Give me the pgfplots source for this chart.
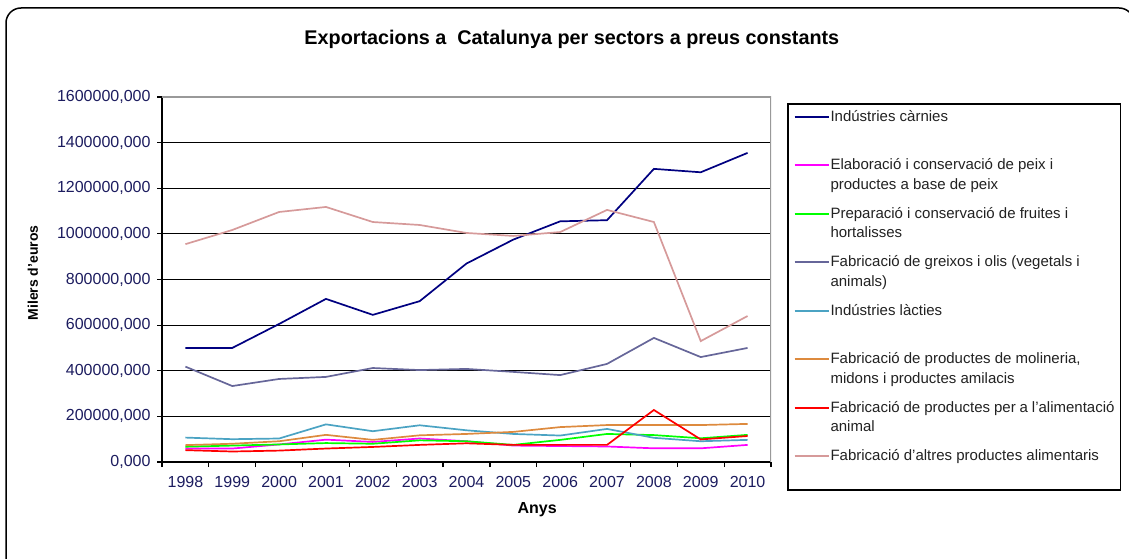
\documentclass[border=0pt]{standalone}
\usepackage{pgfplots}
\pgfplotsset{compat=1.18}
\usepackage{pgfplotstable}
\usepackage{fontspec}
\setmainfont{Liberation Sans}
\definecolor{ticklab}{RGB}{28,28,95}
\definecolor{cNavy}{HTML}{000080}
\definecolor{cMag}{HTML}{FF00FF}
\definecolor{cGreen}{HTML}{00FF00}
\definecolor{cPurple}{HTML}{666699}
\definecolor{cTeal}{HTML}{4BA3C3}
\definecolor{cOrange}{HTML}{DD8A3E}
\definecolor{cRed}{HTML}{FF0000}
\definecolor{cPink}{HTML}{D69A9A}
\definecolor{legtext}{HTML}{222222}

\pgfplotstableread{
x carnies peix fruites greixos lacties molineria animal altres
0 500000 59000 67000 418000 107000 74000 52000 955000
1 500000 59000 72000 333000 100000 80000 46000 1017000
2 605000 77000 77000 364000 103000 91000 50000 1096000
3 715000 98000 83000 373000 165000 119000 59000 1118000
4 645000 88000 80000 412000 135000 97000 66000 1052000
5 705000 103000 95000 403000 161000 117000 75000 1039000
6 870000 91000 91000 408000 139000 123000 82000 1004000
7 975000 72000 75000 395000 123000 132000 75000 991000
8 1055000 70000 97000 381000 116000 153000 75000 1008000
9 1060000 68000 123000 430000 145000 162000 75000 1105000
10 1285000 60000 118000 544000 106000 162000 228000 1052000
11 1270000 60000 104000 460000 91000 162000 99000 530000
12 1355000 75000 119000 500000 97000 167000 114000 640000
}\datatable

\newcommand{\legent}[2]{\parbox[t]{284pt}{\strut #1\\\strut #2}}

\begin{document}
\begin{tikzpicture}[x=1pt,y=1pt]
\useasboundingbox (0,0) rectangle (1129,558);
\begin{scope}
\clip (0,0) rectangle (1129,558);
\draw[line width=1.5pt, rounded corners=15pt] (6,-40) rectangle (1134,550);
\end{scope}
\begin{axis}[
  at={(162pt,96pt)}, anchor=south west,
  width=609pt, height=365pt, scale only axis,
  xmin=-0.5, xmax=12.5,
  ymin=0, ymax=1600000,
  xtick={-0.5,0.5,...,12.5},
  x tick label as interval,
  xticklabels={1998,1999,2000,2001,2002,2003,2004,2005,2006,2007,2008,2009,2010},
  ytick={0,200000,...,1400000},
  extra y ticks={1600000},
  extra y tick style={grid=none},
  scaled y ticks=false,
  yticklabel={\pgfmathprintnumber[fixed,fixed zerofill,precision=3,use comma,1000 sep={},assume math mode=true]{\tick}},
  tick align=outside,
  major tick length=5pt,
  tick style={black, line width=1.2pt},
  axis x line*=bottom, axis y line*=left,
  axis line style={-, black, line width=1.3pt},
  ymajorgrids,
  grid style={black, line width=1.1pt},
  ticklabel style={font=\fontsize{16}{19}\selectfont, text=ticklab},
  xticklabel style={yshift=-6pt},
  yticklabel style={xshift=-3pt},
  /pgf/number format/assume math mode=true,
  title={Exportacions a\ \ Catalunya per sectors a preus constants},
  title style={at={(axis description cs:0.673,1.142)}, anchor=center, yshift=0pt, font=\bfseries\fontsize{19.8}{23}\selectfont},
  xlabel={Anys},
  xlabel style={at={(axis description cs:0.616,-0.1315)}, anchor=center, font=\bfseries\fontsize{16}{19}\selectfont},
  ylabel={Milers d'euros},
  ylabel style={at={(axis description cs:-0.212,0.518)}, anchor=center, font=\bfseries\fontsize{14}{17}\selectfont},
  legend style={at={(axis description cs:1.026,0.983)}, anchor=north west,
    draw=black, line width=1.8pt, inner xsep=6pt, inner ysep=3.5pt,
    font=\fontsize{15}{19.5}\selectfont, text=legtext,
    row sep=9.5pt, column sep=1pt,
    nodes={inner sep=0pt, text depth=}},
  legend cell align=left,
  legend image code/.code={\draw[#1, solid, line width=1.8pt] (0pt,10.4pt) -- (34pt,10.4pt);},
  every axis plot/.append style={line width=1.7pt, mark=none},
]
\addplot[cNavy] table[x=x,y=carnies] {\datatable};
\addlegendentry{\legent{Indústries càrnies}{}}
\addplot[cMag] table[x=x,y=peix] {\datatable};
\addlegendentry{\legent{Elaboració i conservació de peix i}{productes a base de peix}}
\addplot[cGreen] table[x=x,y=fruites] {\datatable};
\addlegendentry{\legent{Preparació i conservació de fruites i}{hortalisses}}
\addplot[cPurple] table[x=x,y=greixos] {\datatable};
\addlegendentry{\legent{Fabricació de greixos i olis (vegetals i}{animals)}}
\addplot[cTeal] table[x=x,y=lacties] {\datatable};
\addlegendentry{\legent{Indústries làcties}{}}
\addplot[cOrange] table[x=x,y=molineria] {\datatable};
\addlegendentry{\legent{Fabricació de productes de molineria,}{midons i productes amilacis}}
\addplot[cRed] table[x=x,y=animal] {\datatable};
\addlegendentry{\legent{Fabricació de productes per a l'alimentació}{animal}}
\addplot[cPink] table[x=x,y=altres] {\datatable};
\addlegendentry{\legent{Fabricació d'altres productes alimentaris}{}}
\draw[gray!80, line width=1.2pt] (rel axis cs:0,1) -- (rel axis cs:1,1) -- (rel axis cs:1,0);
\end{axis}
\end{tikzpicture}
\end{document}
